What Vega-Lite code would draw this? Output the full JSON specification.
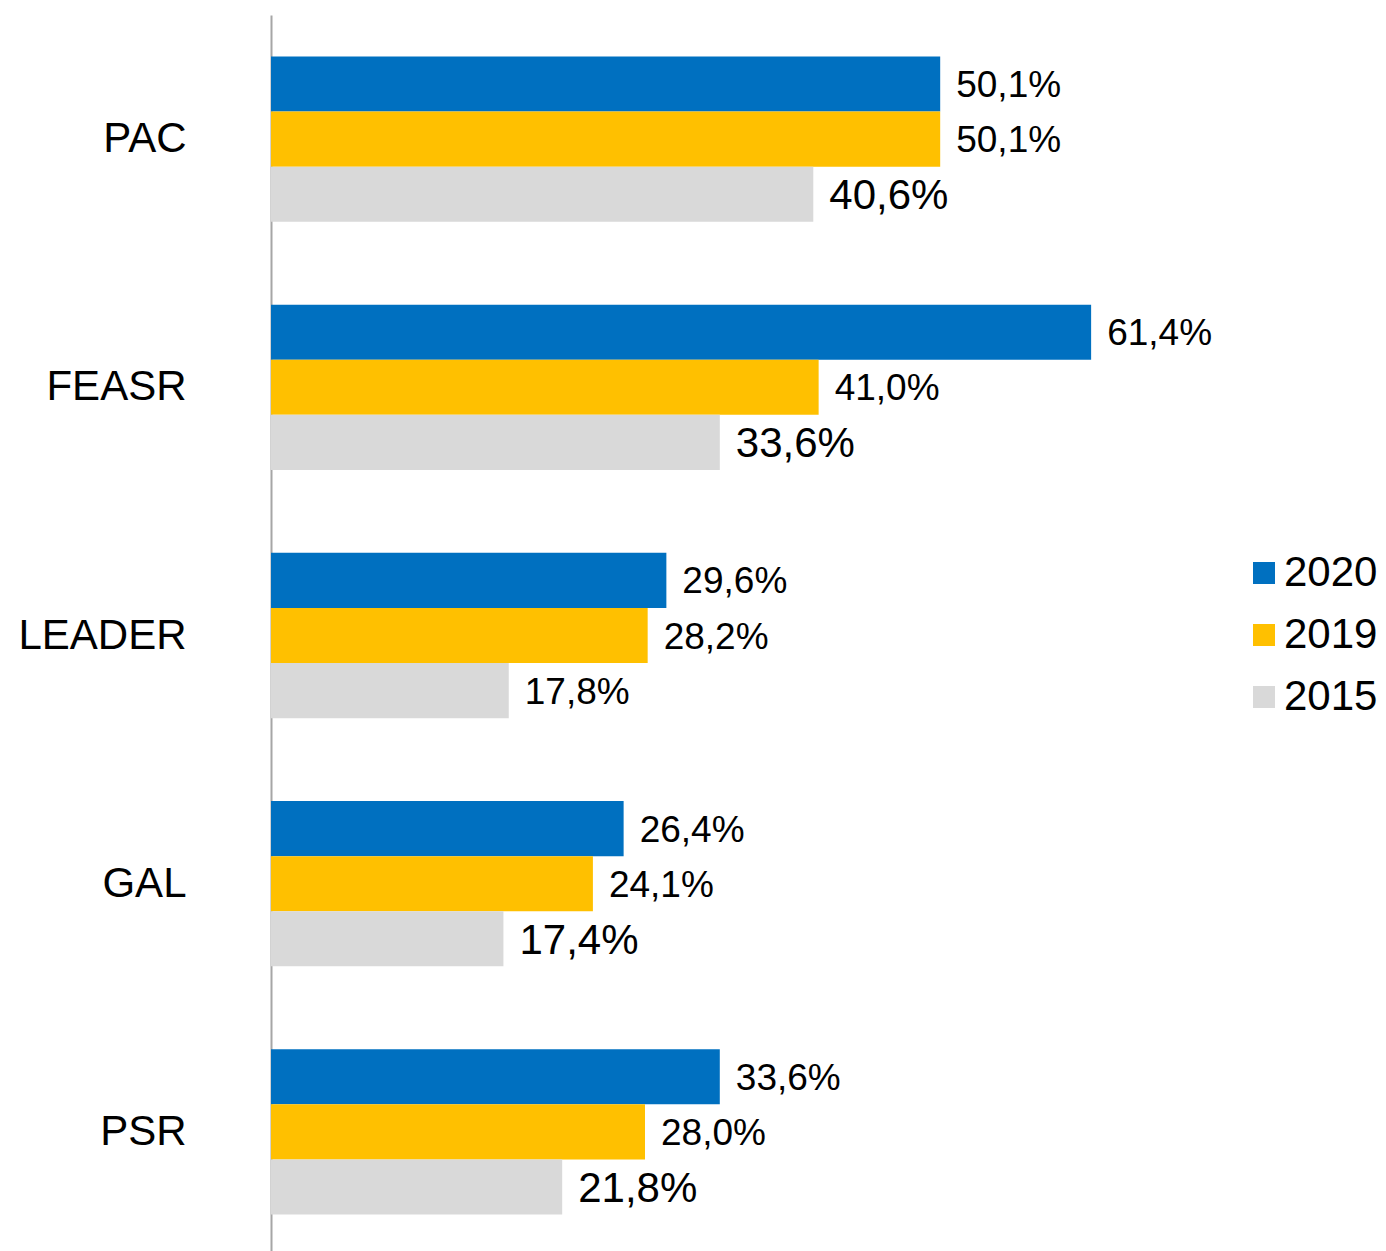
{
  "$schema": "https://vega.github.io/schema/vega-lite/v6.json",
  "autosize": {"type": "none"},
  "padding": {"left": 271, "top": 15, "right": 180, "bottom": 0},
  "width": 935,
  "height": 1241,
  "background": "#ffffff",
  "config": {
    "view": {"stroke": null},
    "font": "Liberation Sans",
    "locale": {"number": {"decimal": ",", "thousands": ".", "grouping": [3], "currency": ["", " €"]}}
  },
  "data": {
    "values": [
      {"cat": "PAC", "year": "2020", "v": 0.501},
      {"cat": "PAC", "year": "2019", "v": 0.501},
      {"cat": "PAC", "year": "2015", "v": 0.406},
      {"cat": "FEASR", "year": "2020", "v": 0.614},
      {"cat": "FEASR", "year": "2019", "v": 0.410},
      {"cat": "FEASR", "year": "2015", "v": 0.336},
      {"cat": "LEADER", "year": "2020", "v": 0.296},
      {"cat": "LEADER", "year": "2019", "v": 0.282},
      {"cat": "LEADER", "year": "2015", "v": 0.178},
      {"cat": "GAL", "year": "2020", "v": 0.264},
      {"cat": "GAL", "year": "2019", "v": 0.241},
      {"cat": "GAL", "year": "2015", "v": 0.174},
      {"cat": "PSR", "year": "2020", "v": 0.336},
      {"cat": "PSR", "year": "2019", "v": 0.280},
      {"cat": "PSR", "year": "2015", "v": 0.218}
    ]
  },
  "encoding": {
    "y": {
      "field": "cat", "type": "nominal",
      "sort": ["PAC", "FEASR", "LEADER", "GAL", "PSR"],
      "scale": {"paddingInner": 0.334, "paddingOuter": 0.167},
      "axis": {
        "title": null, "ticks": false, "tickSize": 0, "grid": false,
        "domain": true, "domainColor": "#A6A6A6", "domainWidth": 2,
        "labelFontSize": 42, "labelColor": "#000000", "labelPadding": 85,
        "labelFont": "Liberation Sans", "labelAlign": "right", "labelBaseline": "middle"
      }
    },
    "yOffset": {
      "field": "year", "type": "nominal",
      "sort": ["2020", "2019", "2015"],
      "scale": {"paddingInner": 0, "paddingOuter": 0}
    },
    "x": {
      "field": "v", "type": "quantitative",
      "scale": {"domain": [0, 0.7], "nice": false, "zero": true},
      "axis": null
    }
  },
  "layer": [
    {
      "mark": {"type": "bar", "cornerRadius": 0},
      "encoding": {
        "color": {
          "field": "year", "type": "nominal",
          "scale": {"domain": ["2020", "2019", "2015"], "range": ["#0070C0", "#FFC000", "#D9D9D9"]},
          "legend": {
            "title": null, "orient": "none", "legendX": 972, "legendY": 537,
            "symbolType": "square", "symbolSize": 484, "symbolStrokeWidth": 0,
            "labelFontSize": 42, "labelColor": "#000000", "labelFont": "Liberation Sans",
            "labelOffset": -1, "rowPadding": 20, "padding": 0
          }
        }
      }
    },
    {
      "mark": {"type": "text", "align": "left", "baseline": "middle", "dx": 16, "dy": 2, "color": "#000000", "font": "Liberation Sans"},
      "encoding": {
        "text": {"field": "v", "type": "quantitative", "format": ".1%"},
        "size": {
          "condition": {"test": "datum.year == '2015' && datum.cat != 'LEADER'", "value": 42},
          "value": 37
        }
      }
    }
  ]
}
